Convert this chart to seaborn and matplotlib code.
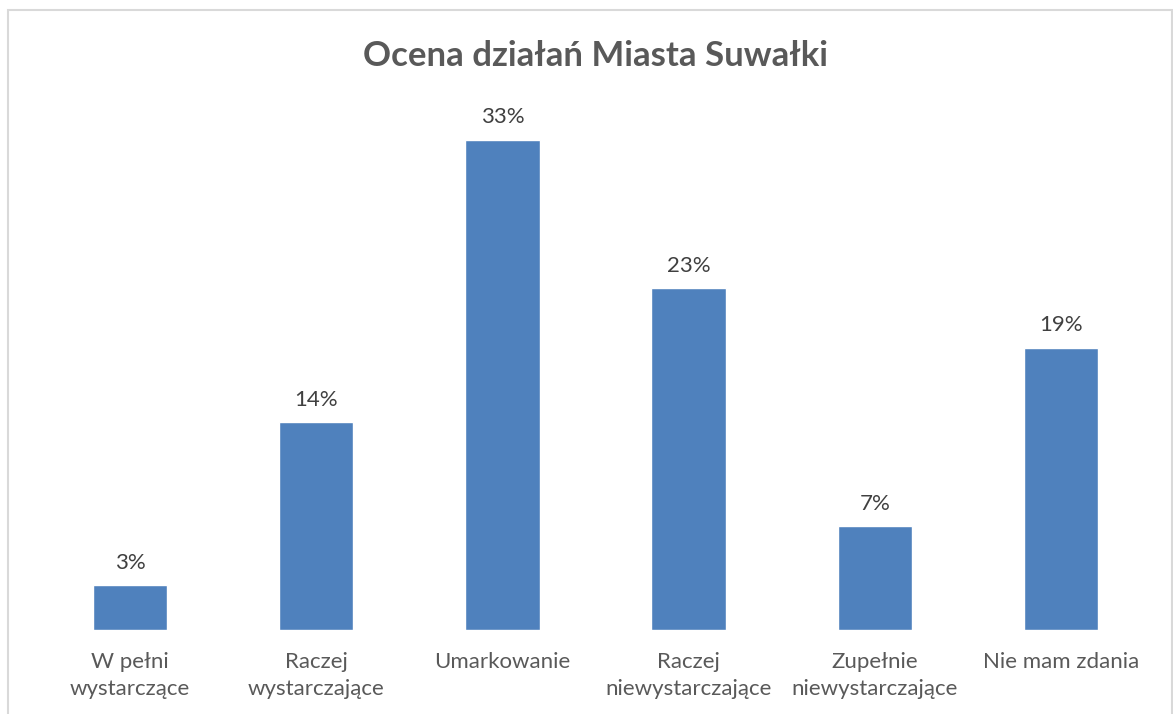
import matplotlib
matplotlib.use("Agg")
import matplotlib.pyplot as plt
import seaborn as sns
import pandas as pd
from matplotlib.patches import Rectangle

categories = ["W pełni\nwystarczące", "Raczej\nwystarczające", "Umarkowanie",
              "Raczej\nniewystarczające", "Zupełnie\nniewystarczające", "Nie mam zdania"]
values = [3, 14, 33, 23, 7, 19]
title = "Ocena działań Miasta Suwałki"

sns.set_theme(style="white")
plt.rcParams['font.family'] = ['Lato', 'DejaVu Sans']

df = pd.DataFrame({"cat": categories, "val": values})

fig = plt.figure(figsize=(11.73, 7.14), dpi=100)
ax = fig.add_axes([37/1173, 84/714, (1154-37)/1173, (630-110)/714])
sns.barplot(data=df, x="cat", y="val", color="#4f81bd", saturation=1, width=0.4, ax=ax)
ax.set_xlim(-0.5, 5.5)
ax.set_ylim(0, 35)
ax.set_xlabel("")
ax.set_ylabel("")
ax.set_yticks([])
for s in ax.spines.values():
    s.set_visible(False)
ax.tick_params(axis='x', length=0, pad=16, labelsize=16, labelcolor="#595959")
for lbl in ax.get_xticklabels():
    lbl.set_linespacing(1.4)
for c in ax.containers:
    ax.bar_label(c, labels=[f"{v}%" for v in values], padding=9, fontsize=16, color="#404040")

fig.text(0.508, 1 - 56/714, title, ha="center", va="center", fontsize=25,
         fontweight="bold", color="#595959")

fig.add_artist(Rectangle((8/1173, -0.05), (1172-8)/1173, 1.05 - 10/714,
                         transform=fig.transFigure, fill=False, edgecolor="#d9d9d9",
                         linewidth=1.5, clip_on=False))

fig.savefig("out.png", dpi=100)
